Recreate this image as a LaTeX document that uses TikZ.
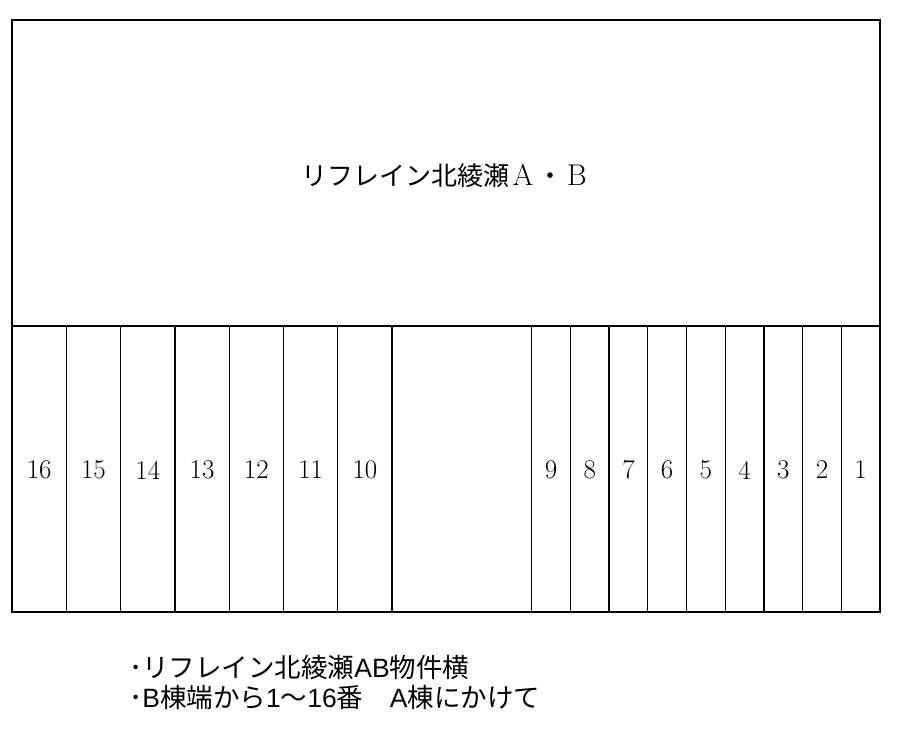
\documentclass[tikz,border=0pt]{standalone}
\usepackage{fontspec}
\newfontfamily\cjk{Noto Sans CJK JP}
\newfontfamily\lat{Liberation Sans}
\newcommand{\lt}[1]{{\lat #1}}
\begin{document}
\begin{tikzpicture}[x=1pt,y=-1pt,font=\fontsize{27}{30}\selectfont]
\useasboundingbox (0,0) rectangle (898,736);

%Parcheggio

\begin{scope}
\coordinate (nw) at (12,20);
\coordinate (se) at (880,612);
\coordinate (w) at (12,326);
\coordinate (e) at (880,326);

\draw[line width=1.3pt] (w) -- (e);

\foreach \k in {1,...,7}
  \draw[line width=1.3pt] (12+54.3*\k,326) -- (12+54.3*\k,612);
\foreach \j in {1,...,9}
  \draw[line width=1.3pt] (880-38.7*\j,326) -- (880-38.7*\j,612);

\draw[line width=2.6pt] (nw) rectangle (se);

\foreach \k [evaluate=\k as \n using int(16-\k)] in {0,...,6}
  \node (p\n) at (12+54.3*\k+27.15,470) {\n};
\foreach \j in {1,...,9}
  \node (p\j) at (880-38.7*\j+19.35,470) {\j};

\node (edificio) at (446,176) {\fontsize{26}{30}\selectfont\cjk リフレイン北綾瀬\makebox[28pt]{\rmfamily\fontsize{30}{30}\selectfont A}・\makebox[28pt]{\rmfamily\fontsize{30}{30}\selectfont B}};

\end{scope}

\node[anchor=west,inner sep=0pt] (nota1) at (129,667) {\cjk\fontsize{26.5}{30}\selectfont ･リフレイン北綾瀬\lt{AB}物件横};
\node[anchor=west,inner sep=0pt] (nota2) at (129,697) {\cjk\fontsize{26.5}{30}\selectfont ･\lt{B}棟端から\lt{1}～\lt{16}番　\lt{A}棟にかけて};

\end{tikzpicture}
\end{document}
